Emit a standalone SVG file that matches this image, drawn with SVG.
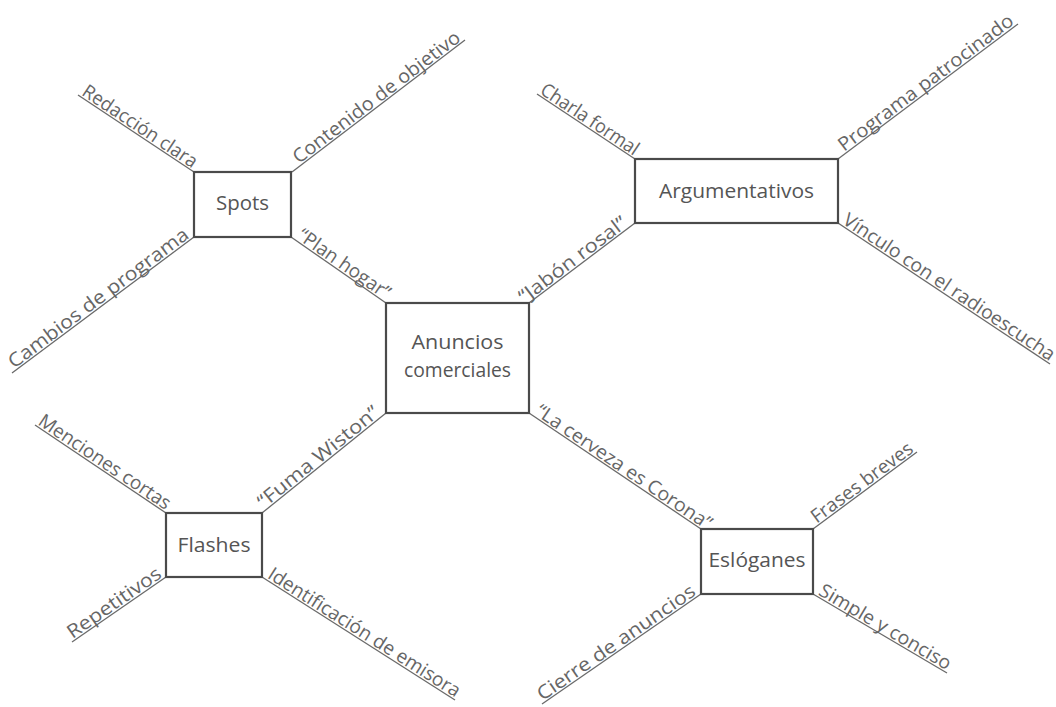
<svg xmlns="http://www.w3.org/2000/svg" width="1056" height="707" viewBox="0 0 1056 707">
<style>
.box{fill:#fff;stroke:#4a4a4a;stroke-width:2.2}
.nt{font-family:"Open Sans","Noto Sans",sans-serif;font-size:20px;fill:#555;text-anchor:middle}
.ln{stroke:#6a6a6a;stroke-width:1.3;fill:none}
.lb{font-family:"Open Sans","Noto Sans",sans-serif;font-size:19px;fill:#666}
</style>
<rect width="1056" height="707" fill="#fff"/>
<g id="connectors">
<line class="ln" x1="78" y1="95" x2="194" y2="172"/>
<line class="ln" x1="292" y1="172" x2="465" y2="40"/>
<line class="ln" x1="12" y1="373" x2="194" y2="237"/>
<line class="ln" x1="291" y1="237" x2="386" y2="303"/>
<line class="ln" x1="537" y1="94" x2="635" y2="159"/>
<line class="ln" x1="838" y1="159" x2="1018" y2="24"/>
<line class="ln" x1="529" y1="303" x2="635" y2="223"/>
<line class="ln" x1="838" y1="223" x2="1050" y2="364"/>
<line class="ln" x1="262" y1="513" x2="386" y2="413"/>
<line class="ln" x1="529" y1="413" x2="701" y2="529"/>
<line class="ln" x1="35" y1="425" x2="166" y2="513"/>
<line class="ln" x1="72" y1="642" x2="166" y2="577"/>
<line class="ln" x1="262" y1="577" x2="455" y2="700"/>
<line class="ln" x1="813" y1="529" x2="917" y2="452"/>
<line class="ln" x1="542" y1="704" x2="701" y2="594"/>
<line class="ln" x1="813" y1="594" x2="947" y2="673"/>
</g>
<g id="labels">
<text class="lb" transform="translate(78,95) rotate(33.6)" x="2" y="-2" textLength="134" lengthAdjust="spacingAndGlyphs">Redacción clara</text>
<text class="lb" transform="translate(292,172) rotate(-37.3)" x="10" y="-2" textLength="205" lengthAdjust="spacingAndGlyphs">Contenido de objetivo</text>
<text class="lb" transform="translate(12,373) rotate(-36.8)" x="4" y="-2" textLength="220" lengthAdjust="spacingAndGlyphs">Cambios de programa</text>
<text class="lb" transform="translate(291,237) rotate(34.8)" x="5" y="-2" textLength="108" lengthAdjust="spacingAndGlyphs">“Plan hogar”</text>
<text class="lb" transform="translate(537,94) rotate(33.6)" x="1" y="-2" textLength="114" lengthAdjust="spacingAndGlyphs">Charla formal</text>
<text class="lb" transform="translate(838,159) rotate(-36.9)" x="9" y="-2" textLength="214" lengthAdjust="spacingAndGlyphs">Programa patrocinado</text>
<text class="lb" transform="translate(529,303) rotate(-37)" x="-4" y="-2" textLength="130" lengthAdjust="spacingAndGlyphs">“Jabón rosal”</text>
<text class="lb" transform="translate(838,223) rotate(33.6)" x="3" y="-2" textLength="250" lengthAdjust="spacingAndGlyphs">Vínculo con el radioescucha</text>
<text class="lb" transform="translate(262,513) rotate(-38.9)" x="4" y="-2" textLength="150" lengthAdjust="spacingAndGlyphs">“Fuma Wiston”</text>
<text class="lb" transform="translate(529,413) rotate(34)" x="5" y="-2" textLength="208" lengthAdjust="spacingAndGlyphs">“La cerveza es Corona”</text>
<text class="lb" transform="translate(35,425) rotate(33.9)" x="1" y="-2" textLength="155" lengthAdjust="spacingAndGlyphs">Menciones cortas</text>
<text class="lb" transform="translate(72,642) rotate(-34.7)" x="2" y="-2" textLength="110" lengthAdjust="spacingAndGlyphs">Repetitivos</text>
<text class="lb" transform="translate(262,577) rotate(32.5)" x="4" y="-2" textLength="224" lengthAdjust="spacingAndGlyphs">Identificación de emisora</text>
<text class="lb" transform="translate(813,529) rotate(-36.5)" x="6" y="-2" textLength="122" lengthAdjust="spacingAndGlyphs">Frases breves</text>
<text class="lb" transform="translate(542,704) rotate(-34.7)" x="2" y="-2" textLength="188" lengthAdjust="spacingAndGlyphs">Cierre de anuncios</text>
<text class="lb" transform="translate(813,594) rotate(30.5)" x="4" y="-2" textLength="150" lengthAdjust="spacingAndGlyphs">Simple y conciso</text>
</g>
<g id="node-spots">
<rect class="box" x="194" y="172" width="97" height="65"/>
<text class="nt" x="242.5" y="210" textLength="53" lengthAdjust="spacingAndGlyphs">Spots</text>
</g>
<g id="node-argumentativos">
<rect class="box" x="635" y="159" width="203" height="64"/>
<text class="nt" x="736.5" y="198" textLength="155" lengthAdjust="spacingAndGlyphs">Argumentativos</text>
</g>
<g id="node-anuncios">
<rect class="box" x="386" y="303" width="143" height="110"/>
<text class="nt" x="457.5" y="349" textLength="92" lengthAdjust="spacingAndGlyphs">Anuncios</text>
<text class="nt" x="457.5" y="377" textLength="107" lengthAdjust="spacingAndGlyphs">comerciales</text>
</g>
<g id="node-flashes">
<rect class="box" x="166" y="513" width="96" height="64"/>
<text class="nt" x="214" y="552" textLength="73" lengthAdjust="spacingAndGlyphs">Flashes</text>
</g>
<g id="node-eslóganes">
<rect class="box" x="701" y="529" width="112" height="65"/>
<text class="nt" x="757" y="567" textLength="97" lengthAdjust="spacingAndGlyphs">Eslóganes</text>
</g>
</svg>
